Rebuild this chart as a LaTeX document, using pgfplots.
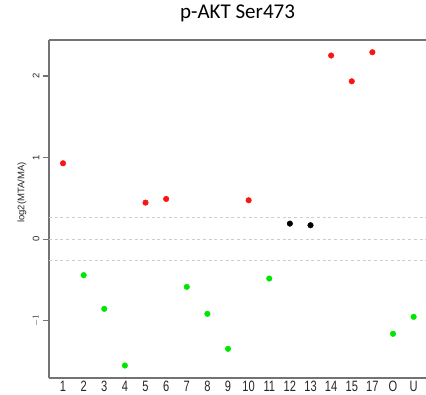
\documentclass[border=0pt]{standalone}
\usepackage{fontspec}
\setmainfont{Liberation Sans}
\newfontfamily\titlefont{Carlito}
\usepackage{pgfplots}
\pgfplotsset{compat=1.18}
\definecolor{axgray}{RGB}{115,115,115}
\definecolor{dashgray}{RGB}{205,205,205}
\definecolor{pred}{RGB}{250,20,20}
\definecolor{pgreen}{RGB}{0,230,0}
\newcommand\sx[1]{\scalebox{0.74}[1]{#1}}
\begin{document}
\begin{tikzpicture}
\begin{axis}[
  scale only axis, width=377pt, height=338pt,
  xmin=0.32, xmax=18.6, ymin=-1.70, ymax=2.44,
  axis x line*=box, axis y line*=left,
  x axis line style={-}, y axis line style={-},
  axis line style={draw=axgray, line width=1.2pt},
  xtick={1,...,18},
  xticklabels={\sx{1},\sx{2},\sx{3},\sx{4},\sx{5},\sx{6},\sx{7},\sx{8},\sx{9},\sx{10},\sx{11},\sx{12},\sx{13},\sx{14},\sx{15},\sx{17},\sx{O},\sx{U}},
  xtick style={draw=none},
  xticklabel style={font=\fontsize{15}{15}\selectfont, text=black!85, anchor=north, yshift=4.5pt, inner sep=1pt},
  ytick={-1,0,1,2},
  yticklabels={$-1$,0,1,2},
  ytick pos=left, tick align=outside,
  ytick style={draw=axgray, line width=1.2pt},
  major tick length=6pt,
  yticklabel style={font=\fontsize{9.5}{10}\selectfont, rotate=90, anchor=south, text=black!85},
  ylabel={log2(MTA/MA)},
  ylabel style={font=\fontsize{9.5}{10}\selectfont, at={(rel axis cs:0,0.549)}, anchor=center, yshift=27pt, text=black!85},
  title={p-AKT Ser473},
  title style={font=\titlefont\fontsize{21}{23}\selectfont, at={(rel axis cs:0.5,1)}, anchor=center, yshift=21pt},
  clip=false,
]
\coordinate (bl) at (rel axis cs:0,0);
\coordinate (tr) at (rel axis cs:1,1);
\addplot[dashgray, line width=1.1pt, dash pattern=on 3pt off 2.7pt] coordinates {(0.32,0.263) (18.6,0.263)};
\addplot[dashgray, line width=1.1pt, dash pattern=on 3pt off 2.7pt] coordinates {(0.32,0) (18.6,0)};
\addplot[dashgray, line width=1.1pt, dash pattern=on 3pt off 2.7pt] coordinates {(0.32,-0.263) (18.6,-0.263)};
\addplot[only marks, mark=*, mark size=2.8pt, color=pred] coordinates {
 (1,0.93) (5,0.448) (6,0.493) (10,0.477) (14,2.25) (15,1.934) (16,2.29)};
\addplot[only marks, mark=*, mark size=2.8pt, color=pgreen] coordinates {
 (2,-0.44) (3,-0.853) (4,-1.547) (7,-0.584) (8,-0.914) (9,-1.343) (11,-0.482) (17,-1.159) (18,-0.951)};
\addplot[only marks, mark=*, mark size=2.8pt, color=black] coordinates {
 (12,0.191) (13,0.171)};
\end{axis}
\pgfresetboundingbox
\path ([shift={(-49pt,-17pt)}]bl) rectangle ([shift={(0pt,40pt)}]tr);
\end{tikzpicture}
\end{document}
